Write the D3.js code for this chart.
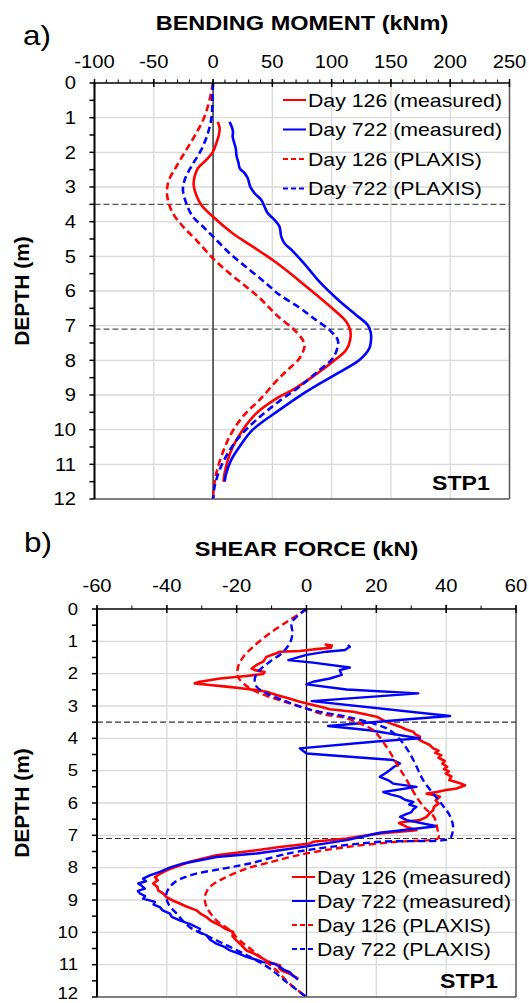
<!DOCTYPE html>
<html>
<head>
<meta charset="utf-8">
<script src="https://cdn.jsdelivr.net/npm/d3@7"></script>
<style>
body{margin:0;background:#fff;}
svg{display:block;}
text{font-family:"Liberation Sans",Arial,sans-serif;fill:#000;}
</style>
</head>
<body>
<svg id="chart" width="529" height="1003"></svg>
<script>
// tick labels / categories
var depthTicks = [0,1,2,3,4,5,6,7,8,9,10,11,12];
var momentTicks = [-100,-50,0,50,100,150,200,250];
var shearTicks = [-60,-40,-20,0,20,40,60];
var seriesNames = ["Day 126 (measured)","Day 722 (measured)","Day 126 (PLAXIS)","Day 722 (PLAXIS)"];
var excavationLevels = [3.5,7.1];

// bending moment, [depth m, kNm]
var bm126Measured = [[1.12,4],[1.31,5.5],[1.5,4.9],[1.74,2.7],[1.98,0],[2.22,-5.7],[2.46,-12.8],[2.7,-15.6],[2.94,-16.4],[3.23,-14.2],[3.52,-9.9],[3.86,0],[4.34,16.7],[4.72,33.5],[5.1,50],[5.49,65],[5.8,76],[6.11,87],[6.6,103.8],[6.88,112.2],[7.12,115.6],[7.41,115.6],[7.7,112.2],[8.04,100.9],[8.47,84.1],[8.85,67.2],[9.07,55],[9.53,36.4],[10.0,25.1],[10.49,16.7],[10.87,12.5],[11.26,9.7],[11.5,8.8]];
var bm722Measured = [[1.12,13.9],[1.25,15.6],[1.4,16.8],[1.55,16.5],[1.7,17.6],[1.9,19.2],[2.1,19.8],[2.3,21.4],[2.46,22.5],[2.6,26.5],[2.75,29.3],[2.99,31.3],[3.18,35],[3.37,40.6],[3.57,43.4],[3.76,46.2],[3.95,51.8],[4.14,56],[4.43,57.5],[4.62,60.2],[4.85,67.2],[5.06,72.9],[5.39,81.3],[5.68,88.3],[5.83,92.5],[6.21,104],[6.45,112],[6.69,120.6],[6.98,130.4],[7.2,133],[7.36,133.3],[7.65,131.8],[7.99,123.4],[8.23,112.2],[8.62,92.5],[9.03,72.9],[9.43,56],[10.0,33.5],[10.49,22.3],[10.87,15.3],[11.26,11.1],[11.5,9.7]];
var bm126Plaxis = [[0,0],[0.49,-3],[0.97,-7.2],[1.45,-14.2],[1.93,-22.6],[2.41,-31],[2.8,-37.2],[3.09,-38.9],[3.37,-38.1],[3.76,-33.9],[4.14,-25.4],[4.53,-14.2],[5.06,0],[5.49,13.9],[5.88,28],[6.2,39.2],[6.5,48],[6.77,56],[7.08,67.2],[7.41,75.6],[7.6,77.1],[7.94,72.9],[8.23,64.4],[8.5,56],[9.14,39.2],[9.62,25.1],[10.2,13.9],[10.78,6.9],[11.26,2.7],[11.74,0.4],[12,0]];
var bm722Plaxis = [[0,0],[0.49,-0.6],[0.97,-1.2],[1.45,-4.4],[1.93,-10],[2.41,-18.4],[2.8,-24],[3.09,-25.4],[3.47,-22.6],[3.86,-17],[4.14,-8.6],[4.43,0],[4.91,13.9],[5.39,30.8],[5.78,44.8],[6.11,56],[6.48,72.9],[6.84,86.9],[7.12,98.1],[7.41,105.1],[7.6,105.1],[7.94,101],[8.28,89.7],[8.76,72.9],[9.2,55],[9.72,36.4],[10.2,22.3],[10.68,12.5],[11.16,5.5],[11.64,1.3],[12,0]];

// shear force, [depth m, kN]
var sf126Measured = [[1.14,7.6],[1.1,5.5],[1.2,7.0],[1.25,1.9],[1.3,-1.9],[1.32,-7.6],[1.37,-8.6],[1.48,-11.5],[1.63,-12.4],[1.73,-14.3],[1.84,-15.7],[1.89,-14.8],[1.95,-12.0],[2.01,-12.4],[2.07,-17.2],[2.15,-24.8],[2.25,-30.5],[2.3,-32],[2.35,-27.7],[2.4,-22.9],[2.46,-18.1],[2.51,-14.3],[2.56,-11.4],[2.66,-8.6],[2.76,-5.2],[2.87,-1.9],[2.97,1.9],[3.02,4],[3.1,6.7],[3.18,13.4],[3.33,20.1],[3.49,22.9],[3.56,24.6],[3.64,26.8],[3.72,28.4],[3.8,30.6],[3.88,31.2],[3.95,32.5],[4.03,32.1],[4.11,33.4],[4.2,35.2],[4.31,36.3],[4.38,37.8],[4.45,36.9],[4.52,38.6],[4.6,37.8],[4.7,39.6],[4.78,38.9],[4.88,40.3],[4.95,39.4],[5.02,40.8],[5.09,39.9],[5.18,41.5],[5.29,40.9],[5.37,43.5],[5.45,45.4],[5.55,43],[5.6,40],[5.66,37.3],[5.71,34.4],[5.76,36.8],[5.81,38.2],[5.92,37],[6.02,37.8],[6.12,36.5],[6.22,36.3],[6.33,35.2],[6.43,34.4],[6.53,32.5],[6.59,27.7],[6.62,26.5],[6.74,28.7],[6.84,31.5],[6.94,21],[7.1,11.5],[7.2,1.9],[7.25,1],[7.36,-7.6],[7.46,-14.3],[7.62,-25.8],[7.82,-33.4],[8.08,-40.1],[8.18,-41.8],[8.29,-43.4],[8.39,-42.6],[8.49,-43.9],[8.6,-42.7],[8.7,-42.5],[8.8,-41.0],[8.91,-40.1],[9.0,-38.6],[9.11,-36.3],[9.2,-34.4],[9.32,-31.5],[9.42,-30.4],[9.53,-28.6],[9.65,-27.3],[9.78,-24.8],[9.88,-23.4],[9.99,-21],[10.12,-21.2],[10.25,-20.1],[10.4,-18.6],[10.56,-17.2],[10.66,-15.0],[10.76,-13.4],[10.87,-11.6],[10.97,-9.5],[11.02,-7.6],[11.1,-7.9],[11.18,-7.1],[11.28,-4.8],[11.43,-2.4]];
var sf722Measured = [[1.11,11.9],[1.17,12.4],[1.27,11],[1.32,5.7],[1.42,0],[1.58,-5.2],[1.66,1.9],[1.81,12.4],[1.89,9.5],[2.04,10.1],[2.15,6.7],[2.25,1.9],[2.33,0],[2.49,11.5],[2.61,32],[2.85,1.5],[3.31,41.1],[3.4,30],[3.62,6.2],[3.75,18],[4.0,32.5],[4.1,20],[4.31,-1.9],[4.47,0],[4.67,24.8],[4.78,26.8],[4.88,25.1],[4.98,23.9],[5.08,22.6],[5.19,21],[5.3,23.5],[5.4,24.8],[5.5,31.5],[5.66,22],[5.74,24.3],[5.81,26.8],[5.9,28.2],[5.97,30.6],[6.05,29.4],[6.12,31.5],[6.2,30.5],[6.28,30.1],[6.36,28.2],[6.43,26.8],[6.53,28.7],[6.72,37.3],[6.92,21],[7.15,11.5],[7.31,1.9],[7.46,-7.6],[7.56,-14.3],[7.67,-25.8],[7.87,-35.3],[8.0,-39.2],[8.13,-42],[8.24,-44.9],[8.34,-46.8],[8.42,-46.0],[8.49,-48.2],[8.57,-47.1],[8.65,-46.3],[8.72,-48.3],[8.8,-47.7],[8.88,-46.2],[8.96,-46.8],[9.06,-43.4],[9.14,-43.8],[9.22,-42],[9.32,-41.2],[9.42,-39.1],[9.52,-38.6],[9.63,-36.3],[9.76,-33.0],[9.89,-30.5],[9.99,-30.9],[10.09,-28.6],[10.22,-27.7],[10.35,-25.8],[10.45,-23.5],[10.56,-21.9],[10.66,-19.4],[10.76,-17.2],[10.84,-14.6],[10.92,-12.4],[10.97,-9.1],[11.07,-7.6],[11.15,-6.6],[11.23,-4.8],[11.34,-3.9],[11.46,-2.4]];
var sf126Plaxis = [[0,0],[0.34,-4.8],[0.75,-10.5],[1.17,-15.3],[1.48,-18.1],[1.79,-19.6],[2.1,-19.6],[2.3,-18.1],[2.51,-15.3],[2.72,-10.5],[2.92,-4.8],[3.07,0],[3.23,3.8],[3.38,11.5],[3.54,15.3],[3.75,19.1],[4.26,22.9],[4.78,25.8],[5.29,28.7],[5.81,31.5],[6.17,34],[6.43,36.5],[6.94,37.7],[7.08,37.8],[7.2,25.8],[7.36,11.5],[7.56,0],[7.68,-5],[7.82,-10],[8.03,-17.2],[8.34,-23.9],[8.6,-27.7],[8.9,-29.1],[9.22,-28.6],[9.63,-25.8],[9.94,-21.9],[10.25,-19.1],[10.66,-14.3],[11.18,-8.6],[11.59,-4.8],[12,0]];
var sf722Plaxis = [[0,0],[0.24,-2.8],[0.44,-4.3],[0.75,-4],[1.06,-4.8],[1.37,-7.1],[1.63,-10.5],[1.89,-13.4],[2.15,-14.8],[2.4,-14.3],[2.61,-11.4],[2.82,-6.7],[3.02,-1.9],[3.18,3.8],[3.33,11.5],[3.54,19.1],[3.75,23.9],[4.16,27.7],[4.67,30.6],[5.29,33.4],[5.71,36.3],[6.1,39.2],[6.4,41.1],[6.74,42],[7.0,41.6],[7.1,41.1],[7.2,21],[7.36,6.7],[7.51,-2.8],[7.62,-7.6],[7.87,-16.2],[8.03,-23.9],[8.24,-33.4],[8.49,-38.2],[8.8,-40.1],[9.11,-39.6],[9.42,-37.2],[9.84,-33.4],[10.15,-27.7],[10.45,-21.9],[10.76,-16.2],[11.12,-10.5],[11.54,-5.7],[12,0]];

var RED = "#ff0000", BLUE = "#0000ff";
var svg = d3.select("#chart");

// text in the picture is a bit wider than normal, stretch it
function stretch(sel, k){
  sel.each(function(){
    var w = this.getComputedTextLength();
    d3.select(this).attr("textLength", w*k).attr("lengthAdjust","spacingAndGlyphs");
  });
}

function drawPanel(cfg){
  var x = d3.scaleLinear().domain(cfg.xDomain).range([cfg.left,cfg.right]);
  var y = d3.scaleLinear().domain([0,12]).range([cfg.top,cfg.bottom]);
  var g = svg.append("g");

  // grid
  g.selectAll(".gx").data(cfg.xTicks.filter(function(d){return d!==0 && d!==cfg.xDomain[0] && d!==cfg.xDomain[1];}))
    .enter().append("line")
    .attr("x1",function(d){return x(d);}).attr("x2",function(d){return x(d);})
    .attr("y1",cfg.top).attr("y2",cfg.bottom)
    .attr("stroke","#d9d9d9").attr("stroke-width",1.3);
  g.selectAll(".gy").data(depthTicks.slice(1,-1)).enter().append("line")
    .attr("x1",cfg.left).attr("x2",cfg.right)
    .attr("y1",function(d){return y(d);}).attr("y2",function(d){return y(d);})
    .attr("stroke","#d9d9d9").attr("stroke-width",1.3);

  // zero line
  g.append("line").attr("x1",x(0)).attr("x2",x(0)).attr("y1",cfg.top).attr("y2",cfg.bottom)
    .attr("stroke",cfg.zeroColor).attr("stroke-width",cfg.zeroWidth);

  // excavation levels
  g.selectAll(".lev").data(excavationLevels).enter().append("line")
    .attr("x1",cfg.left).attr("x2",cfg.right)
    .attr("y1",function(d){return y(d);}).attr("y2",function(d){return y(d);})
    .attr("stroke",cfg.levelColor).attr("stroke-width",cfg.levelWidth).attr("stroke-dasharray","6,3");

  // series
  var smooth = d3.line().x(function(d){return x(d[1]);}).y(function(d){return y(d[0]);}).curve(d3.curveCatmullRom.alpha(0.5));
  var sharp = d3.line().x(function(d){return x(d[1]);}).y(function(d){return y(d[0]);});
  cfg.series.forEach(function(s){
    g.append("path").datum(s.data)
      .attr("d", s.jagged ? sharp : smooth)
      .attr("fill","none").attr("stroke",s.color)
      .attr("stroke-width",s.width)
      .attr("stroke-linejoin","round")
      .attr("stroke-dasharray",s.dashed ? "7,4" : null);
  });

  // frame
  g.append("line").attr("x1",cfg.right).attr("x2",cfg.right).attr("y1",cfg.top).attr("y2",cfg.bottom).attr("stroke","#555").attr("stroke-width",1.5);
  g.append("line").attr("x1",cfg.left).attr("x2",cfg.right).attr("y1",cfg.bottom).attr("y2",cfg.bottom).attr("stroke","#555").attr("stroke-width",1.5);
  g.append("line").attr("x1",cfg.left).attr("x2",cfg.right).attr("y1",cfg.top).attr("y2",cfg.top).attr("stroke","#000").attr("stroke-width",1.5);
  g.append("line").attr("x1",cfg.left).attr("x2",cfg.left).attr("y1",cfg.top).attr("y2",cfg.bottom).attr("stroke","#000").attr("stroke-width",2);

  // x ticks (top)
  var minor = d3.range(cfg.xDomain[0],cfg.xDomain[1]+0.001,10);
  g.selectAll(".mx").data(minor).enter().append("line")
    .attr("x1",function(d){return x(d);}).attr("x2",function(d){return x(d);})
    .attr("y1",cfg.top-3.5).attr("y2",cfg.top)
    .attr("stroke","#000").attr("stroke-width",1);
  g.selectAll(".tx").data(cfg.xTicks).enter().append("line")
    .attr("x1",function(d){return x(d);}).attr("x2",function(d){return x(d);})
    .attr("y1",cfg.top-4).attr("y2",cfg.top+4)
    .attr("stroke","#000").attr("stroke-width",1.5);
  var xl = g.selectAll(".xl").data(cfg.xTicks).enter().append("text")
    .attr("x",function(d){return x(d);}).attr("y",cfg.top-cfg.xLabelGap)
    .attr("text-anchor","middle").attr("font-size",18)
    .text(function(d){return d;});
  stretch(xl,1.12);

  // y ticks (left)
  g.selectAll(".ty").data(d3.range(0,12.01,0.5)).enter().append("line")
    .attr("x1",cfg.left-5).attr("x2",cfg.left)
    .attr("y1",function(d){return y(d);}).attr("y2",function(d){return y(d);})
    .attr("stroke","#000").attr("stroke-width",1.5);
  // last label kept inside the page
  var yl = g.selectAll(".yl").data(depthTicks).enter().append("text")
    .attr("x",cfg.yLabelX)
    .attr("y",function(d){return Math.min(y(d)+cfg.yLabelSize*0.35, 998.5);})
    .attr("text-anchor","end").attr("font-size",cfg.yLabelSize)
    .text(function(d){return d;});
  stretch(yl,1.12);

  // titles
  var t = g.append("text").attr("x",(cfg.left+cfg.right)/2).attr("y",cfg.titleY)
    .attr("text-anchor","middle").attr("font-size",21).attr("font-weight","bold")
    .text(cfg.title);
  stretch(t,1.12);
  g.append("text").attr("transform","translate(29,"+((cfg.top+cfg.bottom)/2)+") rotate(-90)")
    .attr("text-anchor","middle").attr("font-size",21).attr("font-weight","bold")
    .text("DEPTH (m)");
  var p = g.append("text").attr("x",cfg.tagX).attr("y",cfg.tagY)
    .attr("font-family","'Liberation Serif','Times New Roman',serif")
    .attr("font-size",28).text(cfg.tag);
  stretch(p,1.12);
  var stp = g.append("text").attr("x",cfg.stpX).attr("y",cfg.stpY)
    .attr("font-size",21).attr("font-weight","bold").text("STP1");
  stretch(stp,1.1);

  // legend
  var lg = g.selectAll(".lg").data(cfg.series).enter().append("g")
    .attr("transform",function(d,i){return "translate("+cfg.legX+","+(cfg.legY+i*cfg.legStep)+")";});
  lg.append("line").attr("x1",0).attr("x2",23).attr("y1",0).attr("y2",0)
    .attr("stroke",function(d){return d.color;}).attr("stroke-width",2)
    .attr("stroke-dasharray",function(d){return d.dashed ? "5,3" : null;});
  var lt = lg.append("text").attr("x",25).attr("y",0).attr("dy","0.36em")
    .attr("font-size",19).text(function(d){return d.name;});
  stretch(lt,1.12);
}

drawPanel({
  left:94.5, right:509.5, top:83, bottom:499,
  xDomain:[-100,250], xTicks:momentTicks, xLabelGap:15, yLabelX:76, yLabelSize:18,
  zeroColor:"#404040", zeroWidth:1.6, levelColor:"#555", levelWidth:1.4,
  title:"BENDING MOMENT (kNm)", titleY:30,
  tag:"a)", tagX:23, tagY:45, stpX:432, stpY:490,
  legX:283, legY:100, legStep:29.5,
  series:[
    {name:seriesNames[0], data:bm126Measured, color:RED, width:2.6},
    {name:seriesNames[1], data:bm722Measured, color:BLUE, width:2.6},
    {name:seriesNames[2], data:bm126Plaxis, color:RED, width:2.6, dashed:true},
    {name:seriesNames[3], data:bm722Plaxis, color:BLUE, width:2.6, dashed:true}
  ]
});

drawPanel({
  left:97, right:516, top:609, bottom:997,
  xDomain:[-60,60], xTicks:shearTicks, xLabelGap:17, yLabelX:78, yLabelSize:16.5,
  zeroColor:"#000", zeroWidth:1.2, levelColor:"#333", levelWidth:1.1,
  title:"SHEAR FORCE (kN)", titleY:556,
  tag:"b)", tagX:24, tagY:552, stpX:440, stpY:988,
  legX:292, legY:877, legStep:24,
  series:[
    {name:seriesNames[0], data:sf126Measured, color:RED, width:2.6, jagged:true},
    {name:seriesNames[1], data:sf722Measured, color:BLUE, width:2.4, jagged:true},
    {name:seriesNames[2], data:sf126Plaxis, color:RED, width:2.4, dashed:true},
    {name:seriesNames[3], data:sf722Plaxis, color:BLUE, width:2.4, dashed:true}
  ]
});
</script>
</body>
</html>
